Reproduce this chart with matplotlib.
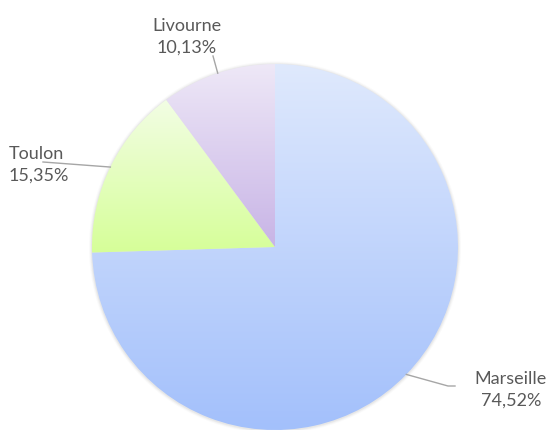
import numpy as np
import matplotlib.pyplot as plt
from matplotlib.colors import to_rgb
from matplotlib.patches import Circle

# data
cities = ['Marseille', 'Toulon', 'Livourne']
shares = [74.52, 15.35, 10.13]
pct_labels = ['74,52%', '15,35%', '10,13%']
top_colors = ['#dfe9fd', '#f2fde4', '#eee8f7']
bottom_colors = ['#a3c0fb', '#d6ff98', '#c8b4e6']

# label layout (pixels, y from top): text anchor and leader elbow
label_pos = [(511, 390), (9, 165), (187, 37)]
label_ha = ['center', 'left', 'center']
elbows = [(448, 387), (43, 163), (213, 57)]
line_ends = [(455, 387), None, None]

W, H = 551, 431
cx, cy, R = 275, H - 248, 183

fig = plt.figure(figsize=(W / 100, H / 100), dpi=100)
ax = fig.add_axes([0, 0, 1, 1])

wedges, _ = ax.pie(shares, startangle=90, counterclock=False,
                   center=(cx, cy), radius=R,
                   wedgeprops=dict(facecolor='none', edgecolor='none'))
ax.set_xlim(0, W)
ax.set_ylim(0, H)
ax.set_aspect('equal')
ax.axis('off')

# soft shadow around the pie
for k, a in zip([3.0, 2.0, 1.0], [0.04, 0.06, 0.09]):
    ax.add_patch(Circle((cx, cy - 0.5), R + k, color='#808080', alpha=a,
                        lw=0, zorder=0, clip_on=False))

# vertical gradient fill for each wedge
for w, c0, c1 in zip(wedges, top_colors, bottom_colors):
    t = np.radians(np.linspace(w.theta1, w.theta2, 200))
    xs = np.concatenate([[cx], cx + R * np.cos(t)])
    ys = np.concatenate([[cy], cy + R * np.sin(t)])
    f = np.linspace(0, 1, 256)[:, None, None]
    img = (1 - f) * np.array(to_rgb(c0)) + f * np.array(to_rgb(c1))
    im = ax.imshow(img, extent=(xs.min(), xs.max(), ys.min(), ys.max()),
                   origin='upper', aspect='auto', zorder=1,
                   interpolation='bilinear')
    im.set_clip_path(w)
    w.set_zorder(2)
    w.set_clip_on(False)

ax.set_xlim(0, W)
ax.set_ylim(0, H)

# leader lines and labels
for w, city, pct, (lx, ly), ha, (ex, ey), end in zip(
        wedges, cities, pct_labels, label_pos, label_ha, elbows, line_ends):
    mid = np.radians((w.theta1 + w.theta2) / 2)
    sx, sy = cx + R * np.cos(mid), cy + R * np.sin(mid)
    px = [sx, ex]
    py = [sy, H - ey]
    if end is not None:
        px.append(end[0])
        py.append(H - end[1])
    ax.plot(px, py, color='#a6a6a6', lw=1, zorder=3, clip_on=False)
    ax.text(lx, H - ly, city + '\n' + pct, ha=ha, va='center',
            fontsize=13, color='#595959', family='Lato', linespacing=1.4)

fig.savefig('out.png', dpi=100)
